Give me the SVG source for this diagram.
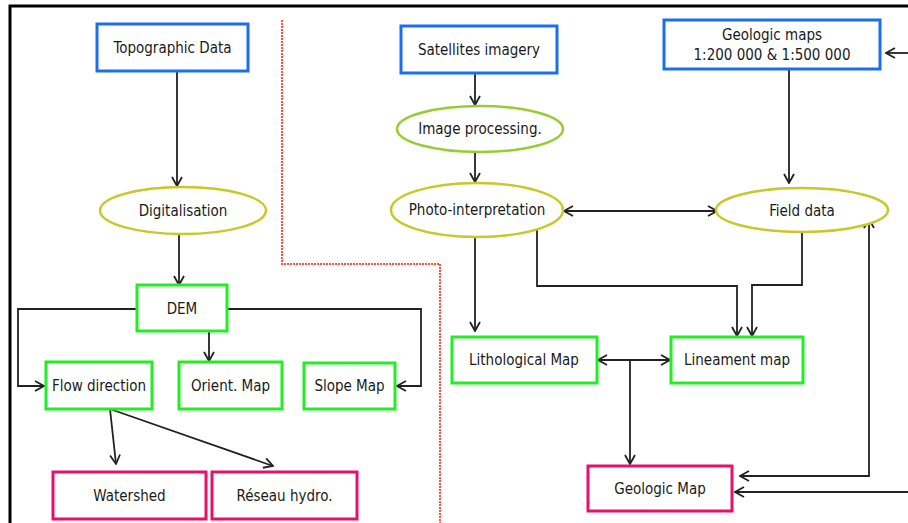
<svg xmlns="http://www.w3.org/2000/svg" width="908" height="523" viewBox="0 0 908 523">
<defs>
<style>
.t{font-family:"DejaVu Sans Condensed","DejaVu Sans",sans-serif;font-size:15px;fill:#1a1a1a;text-anchor:middle;dominant-baseline:central}
.b{fill:#fff;stroke:#1a6ff0;stroke-width:3}
.g{fill:#fff;stroke:#22ee22;stroke-width:3}
.p{fill:#fff;stroke:#e8106a;stroke-width:3}
.y{fill:#fff;stroke:#c8c828;stroke-width:2.5}
.lg{fill:#fff;stroke:#99cc33;stroke-width:2.5}
.c{fill:none;stroke:#222;stroke-width:1.8}
</style>
<marker id="a" viewBox="0 0 12 12" refX="11" refY="6" markerWidth="12" markerHeight="12" markerUnits="userSpaceOnUse" orient="auto-start-reverse">
<path d="M2,1 L11,6 L2,11" fill="none" stroke="#222" stroke-width="1.8"/>
</marker>
</defs>
<rect width="908" height="523" fill="#fff"/>
<path d="M10,530 V6 H915" fill="none" stroke="#000" stroke-width="3"/>
<path d="M282,20 V264 H440 V523" fill="none" stroke="#ff5040" stroke-width="2" stroke-dasharray="2,1"/>

<g id="connectors">
<path class="c" d="M177,71 V186" marker-end="url(#a)"/>
<path class="c" d="M179,234 V285" marker-end="url(#a)"/>
<path class="c" d="M137,309 H18 V386 H44" marker-end="url(#a)"/>
<path class="c" d="M227,309 H421 V386 H397" marker-end="url(#a)"/>
<path class="c" d="M209,331 V361" marker-end="url(#a)"/>
<path class="c" d="M110,409 L116,464" marker-end="url(#a)"/>
<path class="c" d="M110,409 L273,466" marker-end="url(#a)"/>
<path class="c" d="M475,73 V105" marker-end="url(#a)"/>
<path class="c" d="M475,152 V182" marker-end="url(#a)"/>
<path class="c" d="M789,69 V183" marker-end="url(#a)"/>
<path class="c" d="M908,53 H886" marker-end="url(#a)"/>
<path class="c" d="M564,211 H717" marker-start="url(#a)" marker-end="url(#a)"/>
<path class="c" d="M475,237 V331" marker-end="url(#a)"/>
<path class="c" d="M537,229 V286 H737 V336" marker-end="url(#a)"/>
<path class="c" d="M802,232 V285 H752 V336" marker-end="url(#a)"/>
<path class="c" d="M598,360 H670" marker-start="url(#a)" marker-end="url(#a)"/>
<path class="c" d="M630,360 V464" marker-end="url(#a)"/>
<path class="c" d="M740,476 H869 V219" marker-start="url(#a)" marker-end="url(#a)"/>
<path class="c" d="M908,492 H735" marker-end="url(#a)"/>
</g>

<g id="topo"><rect class="b" x="97" y="24" width="151" height="47"/><text class="t" x="172.5" y="48">Topographic Data</text></g>
<g id="digit"><ellipse class="y" cx="183" cy="210.5" rx="83" ry="23.5"/><text class="t" x="183" y="211">Digitalisation</text></g>
<g id="dem"><rect class="g" x="137" y="285" width="90" height="46"/><text class="t" x="182" y="309">DEM</text></g>
<g id="flow"><rect class="g" x="46" y="362" width="106" height="47"/><text class="t" x="99" y="386">Flow direction</text></g>
<g id="orient"><rect class="g" x="179" y="362" width="103" height="47"/><text class="t" x="230.5" y="386">Orient. Map</text></g>
<g id="slope"><rect class="g" x="304" y="363" width="91" height="46"/><text class="t" x="349.5" y="386">Slope Map</text></g>
<g id="watershed"><rect class="p" x="53" y="472" width="153" height="47"/><text class="t" x="129.5" y="496">Watershed</text></g>
<g id="reseau"><rect class="p" x="212" y="472" width="145" height="47"/><text class="t" x="284.5" y="496">Réseau hydro.</text></g>

<g id="sat"><rect class="b" x="401" y="26" width="156" height="47"/><text class="t" x="479" y="50">Satellites imagery</text></g>
<g id="imgproc"><ellipse class="lg" cx="480" cy="129" rx="83" ry="23"/><text class="t" x="480" y="129">Image processing.</text></g>
<g id="photo"><ellipse class="y" cx="477" cy="210" rx="86" ry="27"/><text class="t" x="477" y="210">Photo-interpretation</text></g>
<g id="geomaps"><rect class="b" x="664" y="20" width="216" height="49"/><text class="t" x="772" y="35">Geologic maps</text><text class="t" x="772" y="55">1:200 000 &amp; 1:500 000</text></g>
<g id="field"><ellipse class="y" cx="802" cy="210" rx="86" ry="22"/><text class="t" x="802" y="211">Field data</text></g>
<g id="litho"><rect class="g" x="452" y="337" width="145" height="46"/><text class="t" x="524" y="360">Lithological Map</text></g>
<g id="linea"><rect class="g" x="671" y="337" width="132" height="46"/><text class="t" x="737" y="360">Lineament map</text></g>
<g id="geomap"><rect class="p" x="588" y="466" width="144" height="45"/><text class="t" x="660" y="489">Geologic Map</text></g>
</svg>
